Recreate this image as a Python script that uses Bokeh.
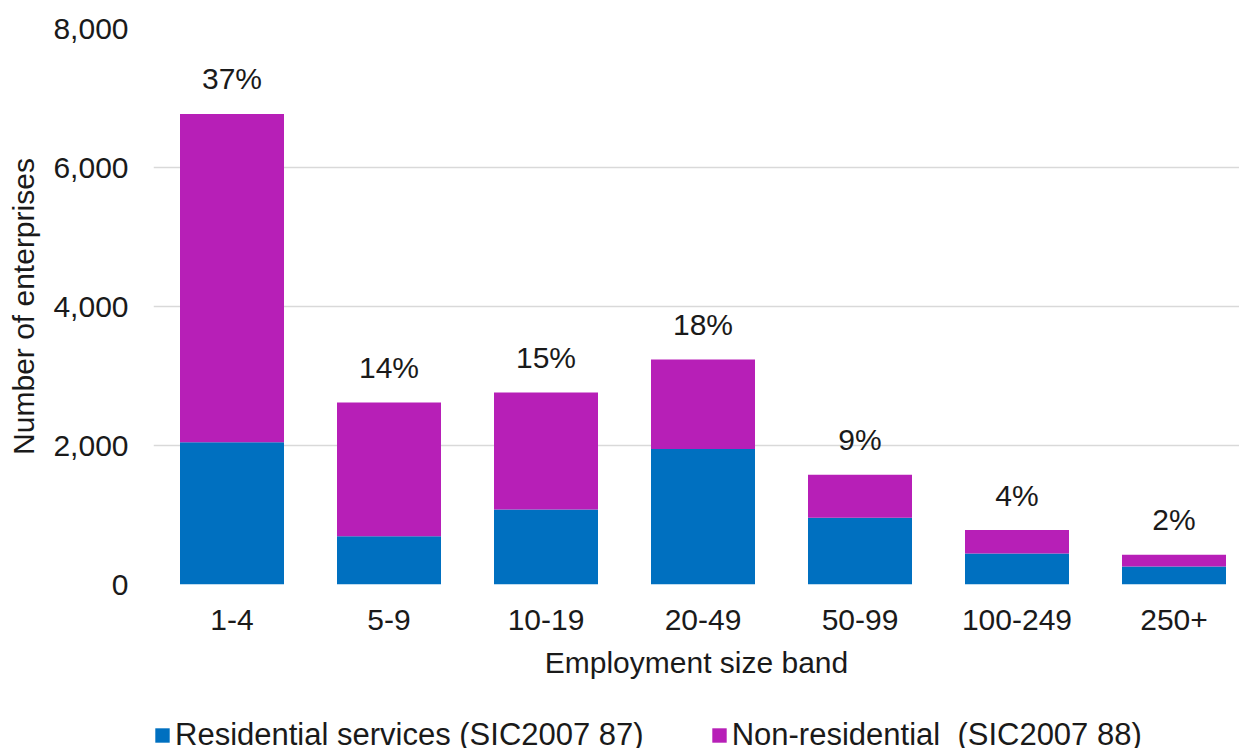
from bokeh.plotting import figure
from bokeh.layouts import column
from bokeh.models import (Range1d, FixedTicker, NumeralTickFormatter, ColumnDataSource,
                          Legend, LegendItem)
from bokeh.embed import file_html
from bokeh.resources import INLINE
from bokeh.core.properties import value

categories = ["1-4", "5-9", "10-19", "20-49", "50-99", "100-249", "250+"]
residential = [2045, 695, 1080, 1950, 960, 446, 259]
non_residential = [4725, 1924, 1683, 1287, 618, 337, 168]
pct_labels = ["37%", "14%", "15%", "18%", "9%", "4%", "2%"]
y_ticks = [0, 2000, 4000, 6000, 8000]
series_names = ["Residential services (SIC2007 87)", "Non-residential  (SIC2007 88)"]

BLUE = "#0070C0"
MAGENTA = "#B71FB7"
FONT = "Liberation Sans"
FS = "30px"
TXT = "#1a1a1a"

xs = list(range(len(categories)))
totals = [a + b for a, b in zip(residential, non_residential)]
src = ColumnDataSource(dict(x=xs, res=residential, non=non_residential,
                            total=totals, pct=pct_labels))

pitch = 157.0
frame_w = 1086
frame_h = 556
p = figure(frame_width=frame_w, frame_height=frame_h,
           min_border_left=153, min_border_top=28, min_border_right=0,
           min_border_bottom=112,
           x_range=Range1d(-0.5, -0.5 + frame_w / pitch),
           y_range=Range1d(0, 8000),
           output_backend="svg", toolbar_location=None)
p.outline_line_color = None
p.background_fill_color = "white"
p.border_fill_color = "white"

rs = p.vbar_stack(["res", "non"], x="x", width=104 / pitch, color=[BLUE, MAGENTA],
                  line_color=None, source=src)

p.text(x="x", y="total", text="pct", source=src, text_align="center",
       text_baseline="alphabetic", y_offset=-35, text_font=value(FONT),
       text_font_size=FS, text_color=TXT)

# axes
p.xaxis.ticker = FixedTicker(ticks=xs)
p.xaxis.major_label_overrides = {i: c for i, c in zip(xs, categories)}
p.yaxis.ticker = FixedTicker(ticks=y_ticks)
p.yaxis.formatter = NumeralTickFormatter(format="0,0")
for ax in (p.xaxis[0], p.yaxis[0]):
    ax.axis_line_color = None
    ax.major_tick_line_color = None
    ax.minor_tick_line_color = None
    ax.major_tick_out = 0
    ax.major_tick_in = 0
    ax.major_label_text_font = FONT
    ax.major_label_text_font_size = FS
    ax.major_label_text_color = TXT
    ax.axis_label_text_font = FONT
    ax.axis_label_text_font_size = FS
    ax.axis_label_text_font_style = "normal"
    ax.axis_label_text_color = TXT
p.xaxis.axis_label = "Employment size band"
p.yaxis.axis_label = "Number of enterprises"
p.xaxis.major_label_standoff = 25
p.xaxis.axis_label_standoff = 13
p.yaxis.major_label_standoff = 25
p.yaxis.axis_label_standoff = 10

p.xgrid.grid_line_color = None
p.ygrid.grid_line_color = "#d9d9d9"
p.ygrid.grid_line_width = 1.5

# legend strip below the chart (same data, kept far outside its visible ranges)
p2 = figure(width=153 + frame_w, height=52, min_border_left=124, min_border_right=0,
            min_border_top=0, min_border_bottom=0,
            x_axis_location=None, y_axis_location=None,
            x_range=Range1d(1000, 1001), y_range=Range1d(1000000, 1000001),
            output_backend="svg", toolbar_location=None)
p2.outline_line_color = None
p2.xgrid.grid_line_color = None
p2.ygrid.grid_line_color = None
p2.background_fill_color = "white"
p2.border_fill_color = "white"
ls = p2.vbar_stack(["res", "non"], x="x", width=0.5, color=[BLUE, MAGENTA],
                   line_color=None, source=src)
legend = Legend(items=[LegendItem(label=series_names[0], renderers=[ls[0]]),
                       LegendItem(label=series_names[1], renderers=[ls[1]])],
                location=(0, -5), orientation="horizontal",
                glyph_width=18, glyph_height=18, label_standoff=4, spacing=66,
                padding=0, margin=0, border_line_color=None,
                background_fill_alpha=0, label_text_font=FONT,
                label_text_font_size="31px", label_text_color=TXT)
p2.add_layout(legend, "center")

layout = column(p, p2, spacing=0)
open("out.html", "w").write(file_html(layout, INLINE))
